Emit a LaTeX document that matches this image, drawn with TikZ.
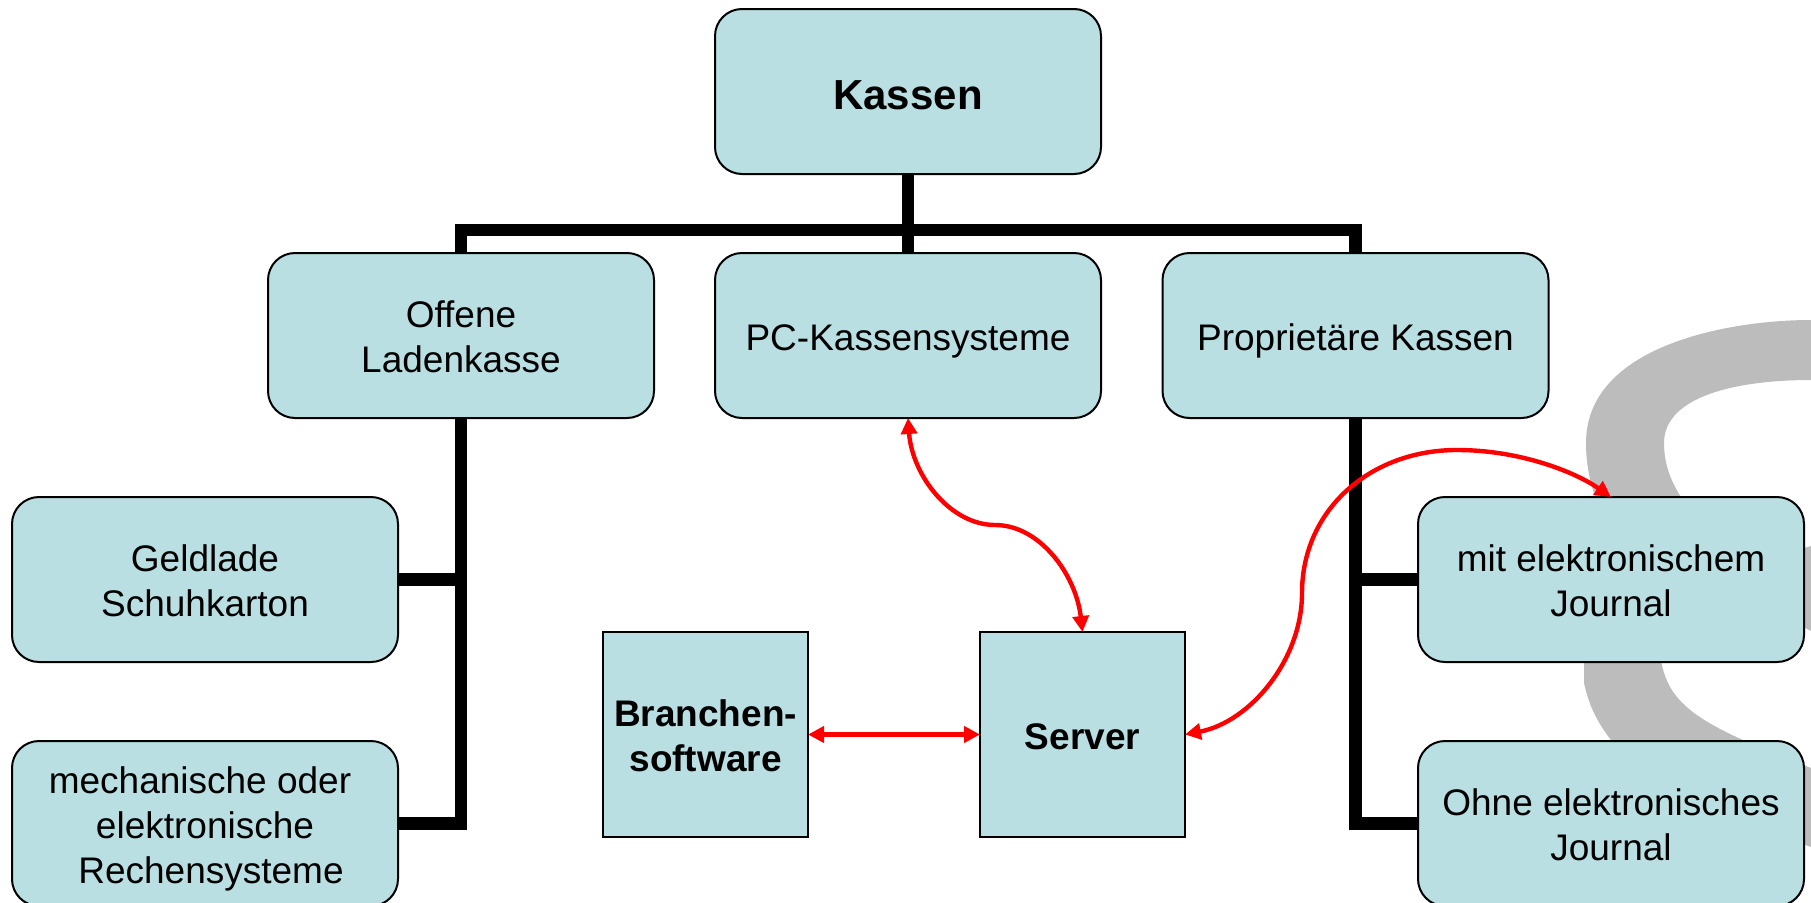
\documentclass[tikz,border=0pt]{standalone}
\usepackage{fontspec}
\setmainfont{Liberation Sans}
\usetikzlibrary{arrows.meta}
\definecolor{boxfill}{RGB}{185,223,226}
\definecolor{wmgray}{RGB}{189,188,189}
\newcommand\sline{\rule[-8pt]{0pt}{45pt}}
\newcommand\kline{\rule[-4.5pt]{0pt}{45pt}}
\tikzset{
  roundbox/.style={draw=black,line width=2pt,fill=boxfill,rounded corners=27pt,minimum width=386pt,minimum height=165pt,inner sep=0pt,outer sep=0pt,align=center,font=\fontsize{37}{45}\selectfont},
  squarebox/.style={draw=black,line width=2pt,fill=boxfill,minimum width=205pt,minimum height=205pt,inner sep=0pt,outer sep=0pt,align=center,font=\fontsize{37}{45}\selectfont\bfseries},
  tree/.style={draw=black,line width=12.5pt,miter limit=10},
  redlink/.style={draw=red,line width=4.4pt,{Triangle[length=16pt,width=16pt]}-{Triangle[length=16pt,width=16pt]}},
  wm/.style={fill=wmgray,draw=none}
}
\begin{document}
\begin{tikzpicture}[x=1pt,y=-1pt]
\useasboundingbox (0,0) rectangle (1811,902);
% watermark
\path[wm] (1811,320) .. controls (1730,320) and (1586,345) .. (1586,443)
  .. controls (1586,465) and (1590,485) .. (1600,510) -- (1690,510)
  .. controls (1675,490) and (1664,470) .. (1664,443)
  .. controls (1664,395) and (1740,380) .. (1811,380) -- cycle;
\path[wm] (1584,650) -- (1584,683) .. controls (1590,710) and (1600,730) .. (1630,762)
  .. controls (1670,800) and (1750,825) .. (1811,847) -- (1811,768)
  .. controls (1760,748) and (1720,732) .. (1694,713)
  .. controls (1675,698) and (1664,685) .. (1659,650) -- cycle;
\path[wm] (1790,552) -- (1811,546) -- (1811,631) -- (1790,620) -- cycle;
% boxes
\node[roundbox] (kassen) at (908,91.5) {\fontsize{42}{45}\selectfont\bfseries\kline Kassen};
\node[roundbox] (offene) at (461,335.5) {\sline Offene\\\sline Ladenkasse};
\node[roundbox] (pc) at (908,335.5) {\sline PC-Kassensysteme};
\node[roundbox] (prop) at (1355.5,335.5) {\sline Proprietäre Kassen};
\node[roundbox] (geld) at (205,579.5) {\sline Geldlade\\\sline Schuhkarton};
\node[roundbox] (mech) at (205,823.5) {\sline mechanische oder\hspace*{10pt}\\\sline elektronische\\\sline\hspace*{12pt}Rechensysteme};
\node[roundbox] (mit) at (1611,579.5) {\sline mit elektronischem\\\sline Journal};
\node[roundbox] (ohne) at (1611,823.5) {\sline Ohne elektronisches\\\sline Journal};
\node[squarebox] (bran) at (705.5,734.5) {\sline Branchen-\\\sline software};
\node[squarebox] (serv) at (1082.5,734.5) {\sline Server};
% tree connectors
\coordinate (bar) at (908,230);
\draw[tree] (kassen.south) -- (pc.north);
\draw[tree] (offene.north) |- (bar) -| (prop.north);
\draw[tree] (offene.south) |- (geld.east);
\draw[tree] (offene.south) |- (mech.east);
\draw[tree] (prop.south) |- (mit.west);
\draw[tree] (prop.south) |- (ohne.west);
% red links
\coordinate (bendA) at (995,525);
\coordinate (bendB) at (1302,593);
\coordinate (bendC) at (1457,450);
\draw[redlink] (pc.south) .. controls (912,475) and (950,525) .. (bendA) .. controls (1040,525) and (1076,575) .. (serv.north);
\draw[redlink] (bran.east) -- (serv.west);
\draw[redlink] (serv.east) .. controls (1250,722) and (1302,660) .. (bendB) .. controls (1302,510) and (1370,450) .. (bendC) .. controls (1520,450) and (1575,472) .. (mit.north);
\end{tikzpicture}
\end{document}
